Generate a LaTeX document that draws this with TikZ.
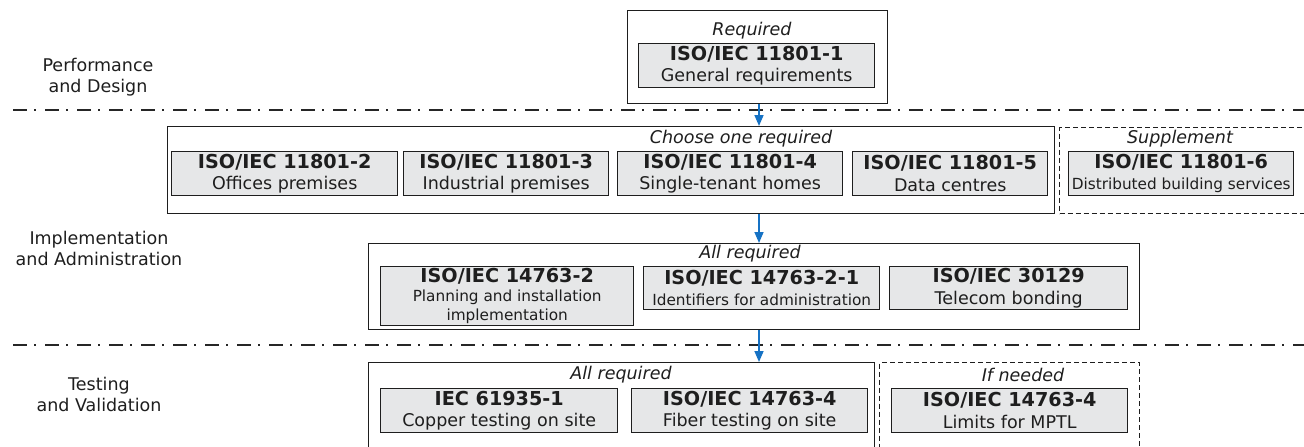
\documentclass[tikz,border=0pt]{standalone}
\usepackage{fontspec}
\setmainfont{DejaVu Sans}
\usetikzlibrary{arrows.meta}
\definecolor{boxgray}{RGB}{230,231,232}
\definecolor{ink}{RGB}{30,30,30}
\definecolor{flowblue}{RGB}{22,114,196}
\newcommand{\iso}[1]{{\fontsize{19.2}{21.5}\selectfont\bfseries #1}}
\newcommand{\smalldesc}{\fontsize{15.3}{19}\selectfont}
\tikzset{
  group/.style={draw=ink, line width=1.1pt, anchor=north west, inner sep=0pt},
  optional/.style={group, dash pattern=on 5pt off 3pt},
  stdbox/.style={draw=ink, line width=1.4pt, fill=boxgray, anchor=north west, inner sep=0pt,
    align=center, text=ink, font=\fontsize{17.5}{21.5}\selectfont},
  rule/.style={font=\itshape\fontsize{17.5}{20}\selectfont, text=ink},
  phase/.style={align=center, text=ink, font=\fontsize{17.5}{21}\selectfont},
  separator/.style={line width=2.6pt, draw=black!85, dash pattern=on 14pt off 7pt on 2pt off 9pt},
  flow/.style={draw=flowblue, line width=1.6pt, -{Triangle[width=9pt,length=11pt]}},
}
\begin{document}
\begin{tikzpicture}[x=1pt,y=-1pt]
\useasboundingbox (0,0) rectangle (1304,447);
% phases
\node[phase] (perf) at (98,77) {Performance\\and Design};
\node[phase] (impl) at (99,248) {Implementation\\and Administration};
\node[phase] (test) at (99,394) {Testing\\and Validation};
\draw[separator] (13,110) -- (1310,110);
\draw[separator] (13,345) -- (1310,345);

% general requirements
\node[group, minimum width=260pt, minimum height=93pt] (general) at (627,10) {};
\node[rule] (genrule) at (752,31) {Required};
\node[stdbox, minimum width=236pt, minimum height=44pt] (iso1) at (638,43) {\iso{ISO/IEC 11801-1}\\General requirements};

% premises
\node[group, minimum width=887pt, minimum height=87pt] (premises) at (167,126) {};
\node[rule] (premrule) at (741,139) {Choose one required};
\node[stdbox, minimum width=226pt, minimum height=44pt] (iso2) at (171,151) {\iso{ISO/IEC 11801-2}\\Offices premises};
\node[stdbox, minimum width=205pt, minimum height=44pt] (iso3) at (403,151) {\iso{ISO/IEC 11801-3}\\Industrial premises};
\node[stdbox, minimum width=225pt, minimum height=44pt] (iso4) at (617,151) {\iso{ISO/IEC 11801-4}\\Single-tenant homes};
\node[stdbox, minimum width=195pt, minimum height=44pt] (iso5) at (852,151) {\iso{ISO/IEC 11801-5}\\Data centres};
\node[optional, minimum width=250pt, minimum height=86pt] (supplement) at (1059,127) {};
\node[rule] (suprule) at (1180,139) {Supplement};
\node[stdbox, minimum width=225pt, minimum height=44pt] (iso6) at (1068,151) {\iso{ISO/IEC 11801-6}\\\smalldesc Distributed building services};

% administration
\node[group, minimum width=771pt, minimum height=86pt] (admin) at (368,243) {};
\node[rule] (admrule) at (750,254) {All required};
\node[stdbox, minimum width=253pt, minimum height=59pt] (adm1) at (380,266) {\iso{ISO/IEC 14763-2}\\[-2pt]\smalldesc Planning and installation\\[-2.5pt]\smalldesc implementation};
\node[stdbox, minimum width=236pt, minimum height=43pt] (adm2) at (643,266) {\iso{ISO/IEC 14763-2-1}\\\smalldesc Identifiers for administration};
\node[stdbox, minimum width=238pt, minimum height=43pt] (adm3) at (889,266) {\iso{ISO/IEC 30129}\\Telecom bonding};

% testing
\node[group, minimum width=506pt, minimum height=95pt] (testing) at (368,362) {};
\node[rule] (tstrule) at (621,375) {All required};
\node[stdbox, minimum width=237pt, minimum height=44pt] (tst1) at (380,388) {\iso{IEC 61935-1}\\Copper testing on site};
\node[stdbox, minimum width=236pt, minimum height=44pt] (tst2) at (631,388) {\iso{ISO/IEC 14763-4}\\Fiber testing on site};
\node[optional, minimum width=260pt, minimum height=95pt] (ifneeded) at (879,362) {};
\node[rule] (ifrule) at (1023,375) {If needed};
\node[stdbox, minimum width=236pt, minimum height=44pt] (tst3) at (891,388) {\iso{ISO/IEC 14763-4}\\Limits for MPTL};

% flow
\coordinate (axis) at (759,0);
\draw[flow] (general.south -| axis) -- (premises.north -| axis);
\draw[flow] (premises.south -| axis) -- (admin.north -| axis);
\draw[flow] (admin.south -| axis) -- (testing.north -| axis);
\end{tikzpicture}
\end{document}
